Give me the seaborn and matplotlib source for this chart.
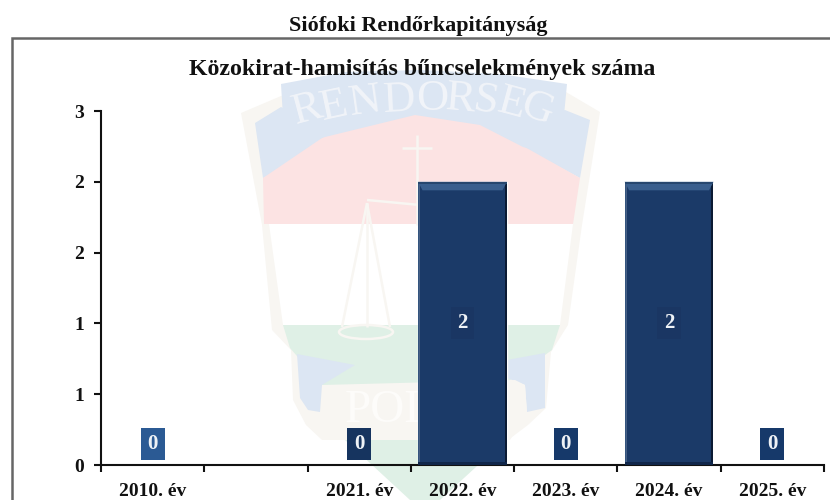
import matplotlib
matplotlib.use('Agg')
import matplotlib.pyplot as plt
import seaborn as sns
import pandas as pd
from matplotlib.patches import Polygon, Rectangle, Ellipse

sns.set_style('white')
plt.rcParams['font.family'] = ['Liberation Serif', 'DejaVu Serif']

categories = ['2010. év', ' ', '2021. év', '2022. év', '2023. év', '2024. év', '2025. év']
values = [0, None, 0, 2, 0, 2, 0]
label_boxes = ['#2b5a94', None, '#16345f', '#1a3663', '#16396a', '#1a3663', '#16396a']
y_ticks = [0, 0.5, 1, 1.5, 2, 2.5]
y_tick_labels = ['0', '1', '1', '2', '2', '3']

df = pd.DataFrame({'ev': categories, 'db': values})

W, H = 830, 500
fig = plt.figure(figsize=(W / 100, H / 100), dpi=100, facecolor='white')

# watermark and frame, in pixel coordinates
bg = fig.add_axes([0, 0, 1, 1], zorder=0)
bg.set_xlim(0, W)
bg.set_ylim(H, 0)
bg.axis('off')

cream = '#f8f6f2'
blue = '#dce6f3'
red = '#fce3e3'
green = '#dff0e6'

outer = [(241, 113), (281, 96), (400, 72), (480, 74), (566, 92), (600, 112), (582, 225), (568, 325),
         (551, 352), (546, 408), (528, 425), (508, 440), (345, 440), (322, 440),
         (306, 425), (293, 400), (291, 350), (272, 330), (262, 225)]
bg.add_patch(Polygon(outer, fc=cream, ec='none'))
bg.add_patch(Polygon([(269, 224), (573, 224), (560, 325), (283, 325)], fc='white', ec='none'))
bg.add_patch(Polygon([(255, 123), (281, 107), (345, 140), (263, 178)], fc=blue, ec='none'))
bg.add_patch(Polygon([(565, 110), (590, 120), (580, 178), (500, 135)], fc=blue, ec='none'))
bg.add_patch(Polygon([(263, 178), (325, 136), (415, 114), (480, 124), (523, 146), (580, 178), (573, 224), (264, 224)],
                     fc=red, ec='none'))
bg.add_patch(Polygon([(281, 84), (345, 72), (420, 70), (500, 74), (567, 84), (560, 157), (523, 147),
                      (480, 125), (415, 115), (325, 137), (285, 150)], fc=blue, ec='none'))
bg.add_patch(Polygon([(283, 325), (560, 325), (552, 350), (510, 380), (500, 445), (440, 500), (410, 500),
                      (345, 440), (322, 385), (290, 348)], fc=green, ec='none'))
bg.add_patch(Polygon([(297, 354), (355, 365), (322, 385), (320, 412), (308, 410), (300, 398)], fc=blue, ec='none'))
bg.add_patch(Polygon([(507, 360), (545, 353), (545, 408), (527, 412), (525, 385), (507, 378)], fc=blue, ec='none'))
bg.add_patch(Polygon([(322, 385), (515, 380), (525, 385), (527, 412), (510, 440), (340, 440), (322, 425)], fc=cream, ec='none'))

# scales and cross
scale_lines = [((367, 342), (203, 327)), ((367, 390), (203, 327)), ((367, 367), (203, 327)),
               ((367, 420), (200, 205)), ((417, 417), (135, 225)), ((402, 432), (148, 148))]
for xs, ys in scale_lines:
    bg.plot(xs, ys, color=cream, lw=1.8, solid_capstyle='butt')
bg.add_patch(Ellipse((366, 332), 54, 14, fc='none', ec=cream, lw=1.8))

# banner and plate letters
letters = ['R', 'E', 'N', 'D', 'O', 'R', 'S', 'E', 'G']
letter_x = [307, 334, 365, 399, 432, 460, 486, 512, 537]
letter_y = [110, 106, 102, 100, 99, 99, 101, 104, 109]
letter_r = [15, 12, 8, 3, 0, -5, -10, -15, -20]
for c, x, y, r in zip(letters, letter_x, letter_y, letter_r):
    bg.text(x, y, c, color='#f1f4f9', fontsize=32, rotation=r, ha='center', va='center')
bg.text(345, 411, 'POL', color='#fdfcfa', fontsize=34, ha='left', va='center')

# outer frame
bg.plot([12, 12, W], [H, 37.5, 37.5], color='#666666', lw=1.8, solid_joinstyle='miter')
bg.text(418, 26, 'Siófoki Rendőrkapitányság', fontsize=15.9, fontweight='bold', ha='center', va='center', color='#111111')
bg.text(422, 69, 'Közokirat-hamisítás bűncselekmények száma', fontsize=17.2, fontweight='bold',
        ha='center', va='center', color='#111111')

ax = fig.add_axes([101 / W, (H - 465) / H, (824 - 101) / W, (465 - 111) / H], zorder=1)
ax.patch.set_alpha(0)

sns.barplot(data=df, x='ev', y='db', order=categories, color='#1b3a68', width=0.86,
            saturation=1, errorbar=None, ax=ax)
ax.set_xlim(-0.5, len(categories) - 0.5)
ax.set_ylim(0, 2.5)
ax.set_xlabel('')
ax.set_ylabel('')

# bevel on the bars
for bar in ax.patches:
    h = bar.get_height()
    if not h or h != h:
        continue
    x0, w = bar.get_x(), bar.get_width()
    ax.add_patch(Rectangle((x0 + 0.975 * w, 0), 0.025 * w, h, fc='#0b1a33', ec='none', zorder=3))
    ax.add_patch(Rectangle((x0, 0), 0.012 * w, h, fc='#34557f', ec='none', zorder=3))
    ax.add_patch(Rectangle((x0, 0), w, 0.02, fc='#10264a', ec='none', zorder=3))
    ax.add_patch(Polygon([(x0, h), (x0 + w, h), (x0 + 0.95 * w, h - 0.06), (x0 + 0.05 * w, h - 0.06)],
                         fc='#3a5f8e', ec='none', zorder=3))
    ax.add_patch(Rectangle((x0, h - 0.018), w, 0.018, fc='#27476f', ec='none', zorder=3))

# value labels on their small boxes
box_w, box_h = 0.232, 0.226
for i, v in enumerate(values):
    if v is None:
        continue
    yc = v / 2 if v else 0.148
    ax.add_patch(Rectangle((i - box_w / 2, yc - box_h / 2), box_w, box_h, fc=label_boxes[i], ec='none', zorder=4))
    ax.text(i, yc, str(v), color='#eef2f6', fontsize=15, fontweight='bold', ha='center', va='center', zorder=5)

sns.despine(ax=ax)
for s in ['left', 'bottom']:
    ax.spines[s].set_color('#111111')
    ax.spines[s].set_linewidth(1.5)

ax.set_yticks(y_ticks)
ax.set_yticklabels(y_tick_labels, fontsize=14, fontweight='bold', color='#111111')
ax.set_xticks([i - 0.5 for i in range(len(categories) + 1)])
ax.set_xticklabels([])
ax.set_xticks(range(len(categories)), minor=True)
ax.set_xticklabels(categories, minor=True, fontsize=14, fontweight='bold', color='#111111')
ax.tick_params(axis='both', which='major', length=5, width=1.5, color='#111111', bottom=True, left=True)
ax.tick_params(axis='y', pad=7)
ax.tick_params(axis='x', which='minor', length=0, pad=13, bottom=False)

fig.savefig('out.png', dpi=100)
